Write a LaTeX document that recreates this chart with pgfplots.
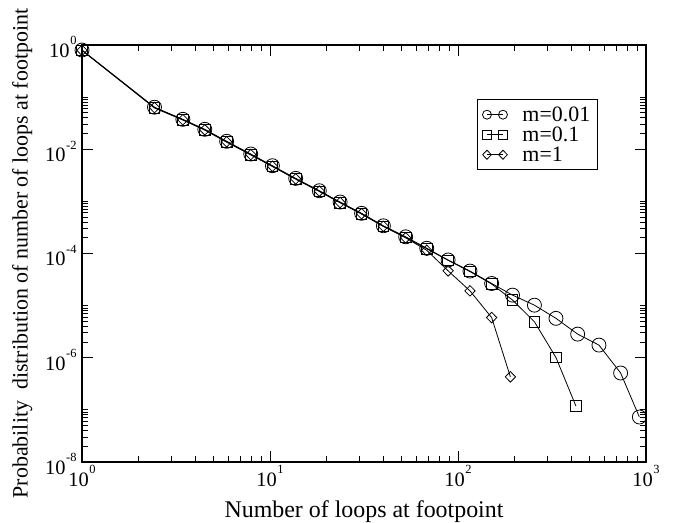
\documentclass[border=0pt]{standalone}
\usepackage{fontspec}
\setmainfont{Liberation Serif}
\usepackage{pgfplots}
\pgfplotsset{compat=1.18}

% tick labels like 10^k set in the text font
\newcommand{\tl}[1]{\mbox{\fontsize{20.5}{22}\selectfont 10\hspace{0.6bp}\raisebox{12.5bp}{\fontsize{12.5}{13}\selectfont #1}}}
\newcommand{\legfont}{\fontsize{22}{24}\selectfont}

\begin{document}
\begin{tikzpicture}[x=1bp,y=1bp]
\useasboundingbox (-82,-61) rectangle (596,462);
\begin{axis}[
    xmode=log, ymode=log,
    scale only axis,
    width=564bp, height=417bp,
    xmin=1, xmax=1000,
    ymin=1e-8, ymax=1,
    axis line style={line width=1.5bp},
    tick style={line width=1bp, black},
    major tick length=11bp,
    minor tick length=6bp,
    xtick={1,10,100,1000},
    xticklabels={\tl{0},\tl{1},\tl{2},\tl{3}},
    ytick={1e-8,1e-6,1e-4,1e-2,1},
    yticklabels={\tl{-8},\tl{-6},\tl{-4},\tl{-2},\tl{0}},
    minor ytick={2e-8,3e-8,4e-8,5e-8,6e-8,7e-8,8e-8,9e-8,1e-7,
                 2e-6,3e-6,4e-6,5e-6,6e-6,7e-6,8e-6,9e-6,1e-5,
                 2e-4,3e-4,4e-4,5e-4,6e-4,7e-4,8e-4,9e-4,1e-3,
                 2e-2,3e-2,4e-2,5e-2,6e-2,7e-2,8e-2,9e-2,1e-1},
    yticklabel style={xshift=-2bp, yshift=-2bp},
    xlabel={\fontsize{24}{26}\selectfont Number of loops at footpoint},
    ylabel={\fontsize{22}{24}\selectfont Probability\ \ distribution of number of loops at footpoint},
    xlabel style={at={(axis description cs:0.5,-0.119)}, anchor=center},
    ylabel style={at={(axis description cs:-0.106,0.5)}, anchor=center},
    legend style={at={(axis description cs:0.7004,0.870)}, anchor=north west,
        draw=black, line width=0.9bp, fill=white,
        font=\legfont, inner xsep=5bp, inner ysep=5bp,
        row sep=0bp, column sep=13bp},
    legend cell align=left,
    legend image code/.code={
        \draw[#1, mark size=4.5bp] plot coordinates {(0bp,0bp) (16bp,0bp)};
    },
]

\addplot[black, line width=0.8bp, mark=o, mark size=7bp] coordinates {
    (1, 0.80) (2.43, 0.064) (3.44, 0.0375) (4.5, 0.0241) (5.88, 0.0142)
    (7.9, 0.0081) (10.3, 0.00483) (13.7, 0.00276) (18.3, 0.0016)
    (23.6, 0.00097) (30.7, 5.9e-4) (40.1, 3.4e-4) (52.7, 2.09e-4)
    (68.2, 1.26e-4) (88.6, 7.5e-5) (115.8, 4.6e-5) (151, 2.66e-5)
    (195, 1.59e-5) (255, 1.02e-5) (332, 5.7e-6) (433, 2.84e-6)
    (562, 1.75e-6) (733, 5.1e-7) (922, 7.3e-8)
};
\addlegendentry{\legfont m=0.01}

\addplot[black, line width=0.8bp, mark=square, mark size=5.3bp] coordinates {
    (1, 0.79) (2.43, 0.062) (3.44, 0.0363) (4.5, 0.0233) (5.88, 0.0137)
    (7.9, 0.0078) (10.3, 0.00467) (13.7, 0.00267) (18.3, 0.00155)
    (23.6, 0.00094) (30.7, 5.7e-4) (40.1, 3.3e-4) (52.7, 2.03e-4)
    (68.2, 1.23e-4) (88.6, 7.4e-5) (115.8, 4.5e-5) (151, 2.6e-5)
    (195, 1.28e-5) (255, 4.9e-6) (332, 1.01e-6) (424, 1.18e-7)
};
\addlegendentry{\legfont m=0.1}

\addplot[black, line width=0.8bp, mark=diamond, mark size=5.3bp,
         mark options={xscale=1.3}] coordinates {
    (1, 0.79) (2.43, 0.063) (3.44, 0.0368) (4.5, 0.0236) (5.88, 0.0139)
    (7.9, 0.0079) (10.3, 0.00472) (13.7, 0.0027) (18.3, 0.00157)
    (23.6, 0.00095) (30.7, 5.8e-4) (40.1, 3.33e-4) (52.7, 2.0e-4)
    (68.2, 1.15e-4) (88.6, 4.65e-5) (115.8, 1.92e-5) (151, 5.9e-6)
    (190, 4.3e-7)
};
\addlegendentry{\legfont m=1}

\end{axis}
\end{tikzpicture}
\end{document}
